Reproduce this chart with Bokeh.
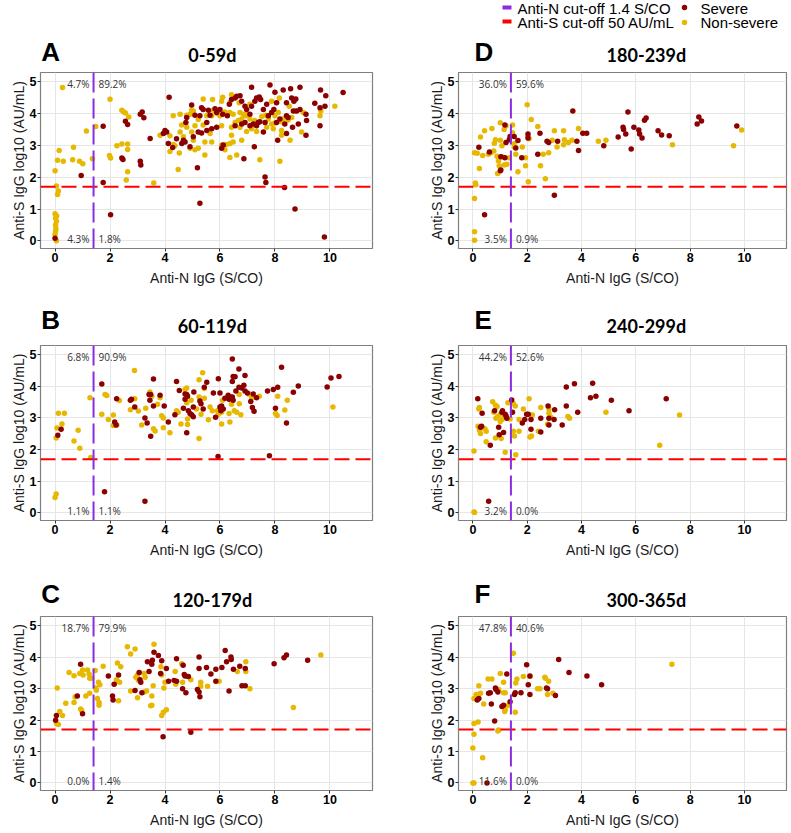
import math
from bokeh.plotting import figure
from bokeh.models import Range1d, FixedTicker, Span, ColumnDataSource
from bokeh.layouts import column, row
from bokeh.embed import file_html
from bokeh.resources import INLINE
from bokeh.core.properties import value

# ---------------- data ----------------
SEVERE_COLOR = "#8B0000"
NONSEV_COLOR = "#E7B800"
PURPLE = "#8A2BE2"
RED = "#FF0000"

N_CUTOFF = 1.4
S_CUTOFF = math.log10(50)

X_TICKS = [0, 2, 4, 6, 8, 10]
Y_TICKS = [0, 1, 2, 3, 4, 5]

LEGEND_LINES = ["Anti-N cut-off 1.4 S/CO", "Anti-S cut-off 50 AU/mL"]
LEGEND_GROUPS = ["Severe", "Non-severe"]

X_LABEL = "Anti-N IgG (S/CO)"
Y_LABEL = "Anti-S IgG log10 (AU/mL)"

TITLES = ["0-59d", "60-119d", "120-179d", "180-239d", "240-299d", "300-365d"]
LETTERS = ["A", "B", "C", "D", "E", "F"]

# quadrant percentages: upper-left, upper-right, lower-left, lower-right
PCT_A = ["4.7%", "89.2%", "4.3%", "1.8%"]
PCT_B = ["6.8%", "90.9%", "1.1%", "1.1%"]
PCT_C = ["18.7%", "79.9%", "0.0%", "1.4%"]
PCT_D = ["36.0%", "59.6%", "3.5%", "0.9%"]
PCT_E = ["44.2%", "52.6%", "3.2%", "0.0%"]
PCT_F = ["47.8%", "40.6%", "11.6%", "0.0%"]

A_SEVERE = [
    (1.75, 3.60), (3.17, 4.05), (3.10, 3.98), (3.23, 3.87), (2.56, 3.76), (2.64, 3.66), (2.43, 2.60), (2.47, 2.56),
    (3.10, 2.50), (3.12, 2.38), (0.95, 2.05), (1.75, 1.83), (2.02, 0.82), (0.00, 0.08), (3.46, 3.22),
    (5.27, 1.18), (8.73, 1.00), (9.80, 0.12), (8.35, 1.68), (7.67, 1.83),
    (4.15, 4.51), (7.15, 4.83), (7.82, 4.90), (8.00, 4.67), (8.30, 4.74), (8.57, 4.78), (8.91, 4.83), (9.66, 4.74),
    (9.85, 4.56), (10.48, 4.66), (4.97, 4.27), (5.33, 4.18), (5.39, 4.13), (5.58, 4.10), (5.82, 4.15), (4.79, 3.88),
    (4.76, 3.72), (5.09, 3.95), (5.27, 3.93), (5.52, 3.72), (5.64, 3.95), (5.88, 4.03), (6.00, 4.13), (6.10, 3.98),
    (6.27, 3.93), (6.34, 4.29), (6.42, 4.44), (6.55, 4.49), (6.61, 4.54), (6.73, 4.56), (6.79, 4.39), (6.91, 4.23),
    (6.97, 4.13), (7.09, 3.98), (7.15, 4.23), (7.27, 4.39), (7.33, 4.49), (7.43, 4.52), (7.48, 4.44), (7.58, 4.13),
    (7.70, 4.29), (7.76, 3.93), (7.88, 4.03), (7.96, 4.13), (8.06, 4.34), (8.42, 4.34), (8.61, 4.49), (8.69, 4.39),
    (8.76, 4.46), (8.48, 3.88), (8.42, 3.93), (8.67, 4.08), (8.79, 4.08), (8.91, 4.13), (9.13, 3.98), (9.45, 4.32),
    (9.64, 4.18), (9.82, 4.23), (9.64, 3.62), (9.15, 3.78), (8.85, 3.67), (8.64, 3.57), (9.13, 3.32), (8.10, 3.16),
    (8.42, 3.37), (4.06, 3.42), (4.00, 3.47), (3.94, 3.37), (4.12, 3.06), (4.28, 2.93), (4.42, 3.21), (4.61, 3.06),
    (4.67, 3.16), (4.73, 3.11), (4.91, 2.96), (5.03, 3.27), (5.21, 3.42), (5.33, 3.39), (5.52, 3.47), (5.70, 3.52),
    (5.88, 3.57), (6.06, 2.91), (6.12, 3.01), (6.55, 3.62), (6.79, 3.67), (6.91, 3.72), (7.09, 3.62), (7.21, 3.67),
    (7.33, 3.62), (7.39, 3.72), (7.58, 3.42), (7.45, 3.74), (7.64, 3.72), (8.06, 3.72), (8.18, 3.83), (8.36, 3.67),
    (7.25, 2.96), (6.87, 2.58), (5.18, 2.30), (7.64, 2.01),
]
A_NONSEVERE = [
    (0.27, 4.82), (2.00, 4.45), (2.43, 4.10), (2.56, 4.02), (2.68, 3.89), (2.50, 4.05), (1.48, 3.59), (1.14, 3.45),
    (0.15, 2.84), (0.09, 2.53), (0.30, 2.50), (0.67, 2.94), (0.64, 2.55), (0.89, 2.50), (1.01, 2.42), (1.36, 2.58),
    (0.00, 2.20), (1.98, 2.68), (2.02, 2.60), (2.25, 2.99), (2.43, 3.04), (2.64, 3.04), (2.64, 2.87), (2.64, 2.17),
    (2.59, 1.91), (0.05, 1.72), (0.12, 1.57), (0.09, 1.46), (0.00, 0.85), (0.02, 0.72), (0.05, 0.62), (0.02, 0.50),
    (0.02, 0.31), (0.00, 0.21), (0.05, 0.00), (0.03, 0.38), (0.06, 0.78), (3.59, 1.82),
    (5.39, 4.46), (5.73, 4.44), (6.10, 4.51), (6.06, 4.39), (6.42, 4.59), (6.36, 4.34), (6.70, 4.34), (7.09, 4.29),
    (7.88, 4.39), (8.16, 4.49), (8.52, 4.23), (8.73, 4.08), (9.03, 4.03), (9.67, 4.08), (9.64, 3.93), (10.18, 4.23),
    (4.30, 3.93), (4.55, 3.98), (4.79, 3.95), (4.91, 3.98), (5.03, 4.08), (4.97, 4.11), (5.21, 3.81), (5.52, 3.93),
    (5.70, 3.93), (5.76, 4.10), (5.90, 4.00), (6.00, 3.93), (6.18, 4.05), (6.36, 4.03), (6.48, 3.98), (6.55, 3.72),
    (6.67, 3.78), (6.73, 4.03), (6.79, 3.83), (6.85, 3.98), (6.95, 3.93), (6.99, 3.98), (7.09, 3.83), (7.27, 3.78),
    (7.52, 3.91), (7.67, 3.95), (7.76, 3.83), (7.88, 3.67), (8.00, 3.70), (8.00, 3.93), (8.12, 4.03), (8.24, 3.74),
    (8.30, 3.83), (8.48, 3.80), (8.61, 3.88), (4.61, 3.64), (4.79, 3.57), (5.09, 3.62), (5.39, 3.64), (5.58, 3.47),
    (5.64, 3.37), (6.06, 3.62), (6.42, 3.57), (6.73, 3.57), (6.97, 3.44), (7.15, 3.52), (7.33, 3.44), (7.70, 3.57),
    (7.94, 3.52), (8.24, 3.47), (8.24, 3.32), (8.55, 3.16), (8.97, 3.42), (3.82, 3.32), (4.18, 3.30), (4.55, 3.42),
    (4.97, 3.42), (4.67, 3.27), (4.30, 3.03), (4.36, 2.99), (4.52, 2.76), (4.18, 2.81), (5.03, 3.16), (4.91, 2.91),
    (5.09, 2.86), (5.21, 2.91), (5.45, 3.11), (5.70, 3.11), (6.06, 3.01), (6.18, 2.86), (6.24, 3.03), (6.36, 3.06),
    (6.42, 3.32), (6.48, 3.11), (6.79, 3.16), (6.61, 2.70), (6.36, 2.62), (5.45, 2.70), (7.45, 2.55), (8.18, 2.50),
    (4.48, 2.24),
]

B_SEVERE = [
    (0.10, 2.45), (0.22, 2.64), (1.70, 4.07), (2.24, 3.61), (2.17, 2.87), (2.22, 2.78), (2.78, 3.59), (2.74, 3.56),
    (2.90, 3.35), (1.80, 0.67), (3.27, 0.37), (3.27, 3.00), (3.35, 2.84), (5.93, 1.78), (7.80, 1.81),
    (6.45, 4.86), (6.69, 4.55), (8.24, 4.60), (3.58, 4.23), (4.42, 4.15), (5.94, 4.24), (5.52, 4.13), (5.43, 3.97),
    (6.48, 4.31), (6.55, 4.30), (6.91, 4.34), (6.45, 4.15), (6.87, 4.03), (6.69, 3.97), (6.79, 3.95), (6.58, 3.85),
    (6.91, 3.85), (7.00, 3.79), (6.00, 3.79), (5.76, 3.79), (6.30, 3.72), (6.39, 3.66), (6.45, 3.66), (6.33, 3.59),
    (6.18, 3.62), (6.48, 3.56), (7.21, 3.76), (7.33, 3.64), (7.12, 3.52), (7.18, 3.33), (7.24, 3.21), (7.73, 3.85),
    (7.94, 3.90), (8.10, 3.97), (8.67, 3.81), (8.85, 4.01), (9.90, 3.98), (10.04, 4.26), (10.33, 4.31), (8.02, 3.31),
    (8.42, 2.84), (4.52, 3.87), (4.73, 3.76), (4.79, 3.74), (4.82, 3.69), (4.73, 3.59), (5.05, 3.82), (5.27, 3.54),
    (5.31, 3.45), (5.03, 3.35), (5.39, 3.28), (4.85, 3.23), (4.91, 3.14), (4.97, 3.10), (5.03, 3.04), (4.36, 3.10),
    (4.67, 3.31), (6.00, 3.35), (6.06, 3.38), (6.12, 3.28), (6.03, 3.23), (5.84, 3.02), (4.12, 2.87), (4.79, 2.53),
    (3.58, 3.38), (3.45, 3.56), (3.42, 3.74), (3.48, 3.74), (3.82, 3.72), (3.97, 3.38), (3.48, 2.42),
]
B_NONSEVERE = [
    (0.12, 3.15), (0.34, 3.15), (0.07, 2.68), (0.25, 2.81), (0.04, 2.37), (0.69, 2.27), (0.84, 2.61), (0.90, 2.04),
    (0.04, 0.60), (0.00, 0.49), (1.27, 3.64), (1.30, 1.75), (1.70, 3.12), (1.82, 3.74), (1.88, 3.71), (1.94, 2.95),
    (2.12, 3.09), (2.12, 2.76), (2.25, 2.78), (2.34, 3.55), (2.74, 3.26), (2.89, 4.50), (2.90, 3.61), (3.03, 3.22),
    (3.15, 2.78), (5.37, 4.43), (5.24, 4.21), (4.79, 3.95), (4.73, 3.90), (5.43, 3.93), (5.24, 3.66), (5.43, 3.62),
    (4.95, 3.56), (4.79, 3.48), (5.64, 3.35), (5.91, 3.23), (5.72, 3.23), (6.10, 3.56), (6.42, 3.43), (6.70, 3.45),
    (6.70, 3.74), (7.05, 3.76), (7.15, 3.64), (7.43, 3.69), (6.52, 3.23), (6.61, 3.18), (6.76, 3.10), (6.06, 3.18),
    (5.94, 3.12), (6.33, 3.14), (6.36, 2.87), (6.06, 2.81), (5.58, 2.94), (5.31, 3.12), (5.15, 3.28), (4.82, 2.97),
    (4.58, 2.81), (4.42, 3.23), (4.48, 3.18), (3.73, 3.43), (3.30, 3.31), (3.82, 3.64), (3.45, 3.82), (3.52, 3.69),
    (3.88, 3.07), (3.94, 3.00), (3.94, 2.69), (4.18, 2.53), (3.58, 2.66), (3.64, 2.59), (4.82, 2.79), (5.24, 2.35),
    (8.10, 3.69), (8.45, 3.56), (8.36, 3.25), (8.02, 3.14), (8.08, 3.08), (10.11, 3.35),
]

C_SEVERE = [
    (0.05, 2.14), (0.02, 1.99), (0.93, 3.77), (1.00, 2.20), (0.81, 2.76), (1.94, 3.40), (2.15, 3.14), (2.31, 3.43),
    (2.09, 2.76), (2.11, 2.64), (2.91, 2.94), (3.06, 3.51), (3.09, 3.28), (3.12, 3.20), (3.16, 2.87), (3.36, 3.85),
    (3.42, 3.54), (3.52, 3.77), (3.54, 3.90), (3.60, 4.15), (3.76, 4.05), (3.88, 3.88), (3.84, 3.48), (4.05, 3.64),
    (4.13, 3.23), (4.33, 3.26), (4.42, 3.95), (4.42, 3.23), (4.64, 2.99), (4.70, 3.45), (4.76, 2.87), (4.73, 3.40),
    (4.66, 3.74), (4.85, 3.38), (3.93, 1.47), (4.94, 1.61), (5.18, 2.97), (5.24, 2.89), (5.27, 2.74), (5.24, 4.00),
    (5.24, 3.64), (5.51, 3.67), (5.67, 3.46), (5.85, 3.61), (5.85, 3.23), (6.07, 3.67), (6.19, 4.21), (6.24, 3.85),
    (6.33, 2.92), (6.40, 4.00), (6.41, 3.92), (6.49, 3.61), (6.72, 3.71), (6.80, 3.09), (6.92, 3.09), (6.92, 3.64),
    (7.97, 3.79), (8.33, 3.98), (8.42, 4.07), (9.19, 3.90),
]
C_NONSEVERE = [
    (0.05, 1.89), (0.12, 1.86), (0.08, 3.02), (0.17, 2.27), (0.27, 2.14), (0.39, 2.53), (0.51, 3.51), (0.69, 3.41),
    (0.69, 2.56), (0.73, 2.73), (0.90, 3.48), (0.93, 2.35), (0.97, 2.30), (1.00, 3.59), (1.02, 3.43), (1.12, 2.76),
    (1.18, 3.59), (1.24, 3.46), (1.26, 3.33), (1.33, 3.33), (1.26, 2.85), (1.46, 3.57), (1.48, 3.02), (1.50, 2.95),
    (1.54, 2.68), (1.60, 2.56), (1.60, 2.47), (1.58, 3.20), (1.63, 3.12), (1.75, 3.71), (2.63, 4.33), (2.75, 4.10),
    (2.91, 4.26), (2.27, 3.81), (2.23, 3.28), (2.27, 3.23), (2.35, 3.20), (2.39, 3.69), (2.31, 2.61), (2.75, 2.92),
    (3.00, 3.43), (2.94, 3.36), (3.03, 3.26), (3.24, 3.48), (3.28, 3.36), (3.33, 2.92), (3.24, 2.89), (3.00, 2.71),
    (3.60, 4.41), (3.57, 3.09), (3.52, 2.76), (3.52, 2.47), (3.48, 2.45), (3.85, 3.69), (3.88, 3.43), (3.96, 3.02),
    (4.00, 3.20), (3.88, 2.14), (3.94, 2.25), (4.05, 2.33), (4.37, 3.54), (4.39, 3.14), (4.61, 3.79), (4.64, 3.20),
    (4.82, 3.38), (4.94, 3.28), (5.30, 3.20), (5.30, 3.07), (5.55, 3.07), (5.97, 3.23), (6.63, 3.54), (6.94, 3.85),
    (6.94, 3.54), (7.09, 2.99), (8.67, 2.40), (9.67, 4.07),
]

D_SEVERE = [
    (0.22, 2.94), (0.61, 2.79), (0.43, 0.82), (1.34, 3.18), (1.22, 3.09), (1.18, 2.61), (1.03, 2.23), (1.01, 2.20),
    (1.03, 2.64), (1.52, 3.28), (1.37, 3.28), (1.58, 2.92), (1.66, 3.15), (1.80, 2.61), (2.03, 3.36), (2.03, 3.23),
    (2.39, 2.72), (2.47, 3.38), (2.73, 3.13), (2.79, 3.09), (3.00, 1.43), (3.12, 3.13), (3.68, 4.08), (3.83, 3.13),
    (3.89, 2.84), (4.05, 3.38), (4.19, 3.38), (4.82, 2.99), (5.35, 3.26), (5.53, 3.57), (5.55, 3.50), (5.63, 3.36),
    (5.71, 4.05), (5.83, 2.89), (5.93, 3.57), (6.11, 3.48), (6.14, 3.36), (6.23, 3.23), (6.32, 3.79), (6.38, 3.86),
    (6.82, 3.46), (6.95, 3.33), (7.23, 3.30), (8.26, 3.67), (8.32, 3.89), (8.42, 3.77), (9.72, 3.61), (1.18, 3.64),
]
D_NONSEVERE = [
    (0.06, 1.33), (0.09, 1.82), (0.11, 1.76), (0.06, 0.29), (0.06, 0.02), (0.06, 2.77), (0.16, 2.75), (0.24, 2.27),
    (0.28, 3.26), (0.36, 2.68), (0.43, 3.46), (0.57, 2.72), (0.67, 2.77), (0.70, 3.53), (0.77, 2.82), (0.79, 3.07),
    (0.83, 3.18), (0.89, 2.66), (0.94, 2.51), (0.91, 2.12), (0.97, 2.36), (1.01, 3.71), (1.01, 3.16), (1.07, 2.99),
    (1.09, 2.64), (1.15, 2.38), (1.22, 3.61), (1.15, 3.50), (1.25, 2.41), (1.34, 2.61), (1.46, 3.64), (1.46, 3.40),
    (1.52, 3.05), (1.58, 2.72), (1.52, 2.95), (1.66, 2.17), (1.82, 2.95), (1.94, 2.61), (1.94, 2.36), (2.00, 4.28),
    (2.03, 3.28), (2.07, 3.21), (2.15, 3.81), (2.04, 1.86), (2.39, 3.59), (2.49, 2.36), (2.59, 2.72), (2.67, 1.95),
    (2.79, 2.77), (2.92, 3.16), (3.00, 3.46), (3.10, 2.95), (3.34, 3.46), (3.34, 3.02), (3.37, 3.18), (3.52, 3.09),
    (3.65, 3.16), (3.89, 3.53), (4.62, 3.13), (4.90, 3.16), (7.35, 3.02), (9.60, 2.99), (9.90, 3.48),
]

E_SEVERE = [
    (0.18, 3.61), (0.34, 3.15), (0.28, 2.71), (0.32, 2.74), (0.64, 2.14), (0.58, 0.37), (0.80, 3.23), (0.95, 2.71),
    (0.97, 2.47), (1.07, 3.18), (1.09, 3.23), (1.13, 2.54), (1.19, 3.12), (1.22, 3.07), (1.25, 2.99), (1.43, 3.57),
    (1.46, 3.18), (1.82, 2.84), (1.91, 2.95), (1.98, 3.12), (2.04, 3.12), (2.14, 2.95), (2.14, 2.64), (2.50, 2.56),
    (2.50, 2.99), (2.77, 3.38), (2.80, 2.78), (2.80, 2.99), (3.01, 3.26), (2.99, 2.95), (3.29, 2.78), (3.44, 3.98),
    (3.44, 3.38), (3.74, 4.08), (3.86, 3.18), (4.33, 3.64), (4.41, 4.10), (4.53, 3.69), (5.10, 3.56), (5.75, 3.23),
    (7.12, 3.61),
]
E_NONSEVERE = [
    (0.04, 1.96), (0.04, 0.03), (0.06, 0.01), (0.19, 2.74), (0.22, 3.28), (0.24, 3.33), (0.24, 2.61), (0.28, 2.51),
    (0.44, 2.66), (0.49, 2.58), (0.49, 2.25), (0.73, 3.51), (0.77, 3.18), (0.83, 3.40), (0.89, 3.36), (0.85, 2.99),
    (0.83, 2.37), (0.92, 3.05), (1.01, 3.12), (1.01, 2.89), (1.07, 2.95), (1.17, 3.02), (1.04, 2.35), (1.19, 1.92),
    (1.29, 3.48), (1.37, 2.97), (1.49, 2.58), (1.53, 2.43), (1.56, 3.38), (1.58, 1.84), (1.49, 3.46), (1.70, 2.95),
    (1.70, 2.58), (1.86, 3.28), (2.07, 3.61), (2.10, 2.40), (2.16, 2.43), (2.19, 3.09), (2.41, 2.58), (2.50, 3.33),
    (2.75, 2.81), (2.80, 3.28), (2.80, 3.15), (2.87, 3.02), (3.50, 3.05), (3.56, 2.99), (4.90, 3.18), (6.88, 2.14),
    (7.61, 3.09),
]

F_SEVERE = [
    (0.16, 2.64), (0.22, 2.68), (0.58, 2.85), (0.64, 2.87), (0.68, 2.51), (0.83, 3.02), (0.85, 2.97), (0.80, 1.97),
    (0.92, 2.89), (1.07, 2.43), (1.13, 2.47), (1.25, 3.46), (1.37, 2.58), (0.52, 0.00), (1.53, 2.81), (1.56, 2.87),
    (1.77, 2.87), (1.98, 3.76), (2.04, 3.12), (2.10, 3.40), (2.10, 2.81), (2.71, 3.02), (2.75, 2.99), (3.04, 2.78),
    (3.16, 3.92), (3.54, 3.51), (4.20, 3.40), (4.74, 3.12),
]
F_NONSEVERE = [
    (0.00, 0.00), (0.04, 0.00), (0.00, 1.11), (0.04, 1.55), (0.04, 1.89), (0.04, 2.68), (0.12, 2.81), (0.19, 1.94),
    (0.22, 3.09), (0.28, 2.85), (0.36, 0.80), (0.40, 2.51), (0.56, 3.30), (0.70, 3.30), (0.95, 2.97), (0.92, 1.65),
    (0.95, 1.68), (1.01, 3.48), (1.13, 3.20), (1.13, 2.87), (1.19, 2.87), (1.17, 2.27), (1.19, 2.33), (1.31, 2.47),
    (1.49, 4.12), (1.56, 2.25), (1.58, 3.18), (1.62, 3.30), (1.86, 3.38), (2.10, 3.38), (2.38, 2.99), (2.47, 2.99),
    (2.65, 3.36), (2.67, 3.33), (2.75, 2.81), (2.79, 3.23), (2.95, 2.85), (7.33, 3.77),
]

# ---------------- layout constants ----------------
X_START, X_END = -0.53, 11.55
Y_START, Y_END = -0.24, 5.29
B_TOP = 2
LW, RW = 398, 391
L_LEFT, L_RIGHT = 40, 26
R_LEFT, R_RIGHT = 60, 3
LEGEND_H = 32
# per row: header height, frame height, bottom border, letter / title centre above frame
ROWS = [
    dict(hdr=38, frame=179, bottom=37, letter_up=21, title_up=18),
    dict(hdr=55, frame=178, bottom=37, letter_up=26, title_up=20),
    dict(hdr=54, frame=179, bottom=35, letter_up=23, title_up=17),
]


def make_panel(severe, nonsevere, pct, width, b_left, b_right, frame_h, b_bottom):
    height = B_TOP + frame_h + b_bottom
    p = figure(width=width, height=height, output_backend="svg", toolbar_location=None,
               x_range=Range1d(X_START, X_END), y_range=Range1d(Y_START, Y_END),
               min_border_left=b_left, min_border_right=b_right,
               min_border_top=B_TOP, min_border_bottom=b_bottom,
               background_fill_color="white", border_fill_color="white")
    p.outline_line_color = "#7F7F7F"
    p.outline_line_width = 1.2
    p.xaxis.ticker = FixedTicker(ticks=X_TICKS)
    p.yaxis.ticker = FixedTicker(ticks=Y_TICKS)
    p.grid.grid_line_color = "#E6E6E6"
    p.grid.grid_line_width = 1
    for ax in (p.xaxis, p.yaxis):
        ax.axis_line_color = None
        ax.major_tick_line_color = "#333333"
        ax.major_tick_out = 3
        ax.major_tick_in = 0
        ax.minor_tick_line_color = None
        ax.major_label_text_font = "Liberation Sans"
        ax.major_label_text_font_style = "bold"
        ax.major_label_text_font_size = "12.5px"
        ax.major_label_text_color = "#000000"
        ax.major_label_standoff = 1
        ax.axis_label_text_font = "Liberation Sans"
        ax.axis_label_text_font_style = "normal"
        ax.axis_label_text_color = "#1A1A1A"
    p.xaxis.axis_label = X_LABEL
    p.xaxis.axis_label_text_font_size = "14px"
    p.xaxis.axis_label_standoff = 5
    p.yaxis.axis_label = Y_LABEL
    p.yaxis.axis_label_text_font_size = "14px"
    p.yaxis.axis_label_standoff = 0

    p.scatter([v[0] for v in nonsevere], [v[1] for v in nonsevere], size=5.5,
              fill_color=NONSEV_COLOR, line_color=None)
    p.scatter([v[0] for v in severe], [v[1] for v in severe], size=5.5,
              fill_color=SEVERE_COLOR, line_color=None)

    p.add_layout(Span(location=S_CUTOFF, dimension="width", line_color=RED,
                      line_width=2, line_dash="15 6"))
    p.add_layout(Span(location=N_CUTOFF, dimension="height", line_color=PURPLE,
                      line_width=2, line_dash="20 6"))

    left_src = ColumnDataSource(dict(x=[N_CUTOFF, N_CUTOFF], y=[Y_TICKS[-1], Y_TICKS[0]],
                                     t=[pct[0], pct[2]], yo=[2, -2]))
    right_src = ColumnDataSource(dict(x=[N_CUTOFF, N_CUTOFF], y=[Y_TICKS[-1], Y_TICKS[0]],
                                      t=[pct[1], pct[3]], yo=[2, -2]))
    common = dict(text="t", y_offset="yo", text_baseline="middle", text_font=value("Open Sans"),
                  text_font_size="10px", text_color="#333333")
    p.text(x="x", y="y", source=left_src, text_align="right", x_offset=-4, **common)
    p.text(x="x", y="y", source=right_src, text_align="left", x_offset=5, **common)
    return p


def make_header(idx, width, height, b_left, b_right, letter_x, letter_up, title_up):
    """Strip above a panel holding the panel letter and the centred title."""
    h = figure(width=width, height=height, output_backend="svg", toolbar_location=None,
               x_range=Range1d(0, width), y_range=Range1d(height, 0), min_border=0,
               x_axis_location=None, y_axis_location=None,
               background_fill_color="white", border_fill_color="white")
    h.outline_line_color = None
    h.grid.visible = False
    frame_mid = b_left + (width - b_left - b_right) / 2
    base = height + B_TOP
    h.text(x=[letter_x], y=[base - letter_up], text=[LETTERS[idx]], text_align="left",
           text_baseline="middle", text_font=value("Liberation Sans"),
           text_font_style="bold", text_font_size="26px", text_color="#000000")
    h.text(x=[frame_mid], y=[base - title_up], text=[TITLES[idx]], text_align="center",
           text_baseline="middle", text_font=value("Lato"),
           text_font_style="bold", text_font_size="18px", text_color="#000000")
    return h


PCTS = [PCT_A, PCT_B, PCT_C, PCT_D, PCT_E, PCT_F]
DATA = [(A_SEVERE, A_NONSEVERE), (B_SEVERE, B_NONSEVERE), (C_SEVERE, C_NONSEVERE),
        (D_SEVERE, D_NONSEVERE), (E_SEVERE, E_NONSEVERE), (F_SEVERE, F_NONSEVERE)]

left_items, right_items = [], []
for r, cfg in enumerate(ROWS):
    li, ri = r, r + 3
    left_items.append(make_header(li, LW, cfg["hdr"], L_LEFT, L_RIGHT, 1,
                                  cfg["letter_up"], cfg["title_up"]))
    left_items.append(make_panel(DATA[li][0], DATA[li][1], PCTS[li], LW, L_LEFT, L_RIGHT,
                                 cfg["frame"], cfg["bottom"]))
    right_items.append(make_header(ri, RW, cfg["hdr"], R_LEFT, R_RIGHT, 19,
                                   cfg["letter_up"], cfg["title_up"]))
    right_items.append(make_panel(DATA[ri][0], DATA[ri][1], PCTS[ri], RW, R_LEFT, R_RIGHT,
                                  cfg["frame"], cfg["bottom"]))

# ---------------- legend strip ----------------
LEG_W = LW + RW
leg = figure(width=LEG_W, height=LEGEND_H, output_backend="svg", toolbar_location=None,
             x_range=Range1d(0, LEG_W), y_range=Range1d(LEGEND_H, 0), min_border=0,
             x_axis_location=None, y_axis_location=None,
             background_fill_color="white", border_fill_color="white")
leg.outline_line_color = None
leg.grid.visible = False
leg.segment(x0=[502, 502], y0=[7, 21], x1=[511, 511], y1=[7, 21],
            line_color=[PURPLE, RED], line_width=4)
leg.scatter(x=[684, 684], y=[7, 22], size=5.5, fill_color=[SEVERE_COLOR, NONSEV_COLOR],
            line_color=None)
leg.text(x=[517, 517, 700, 700], y=[8, 22, 8, 22],
         text=LEGEND_LINES + LEGEND_GROUPS, text_baseline="middle",
         text_font=value("Liberation Sans"), text_font_size="15px", text_color="#000000")

layout = column(leg, row(column(*left_items), column(*right_items)))

open("out.html", "w").write(file_html(layout, INLINE))
